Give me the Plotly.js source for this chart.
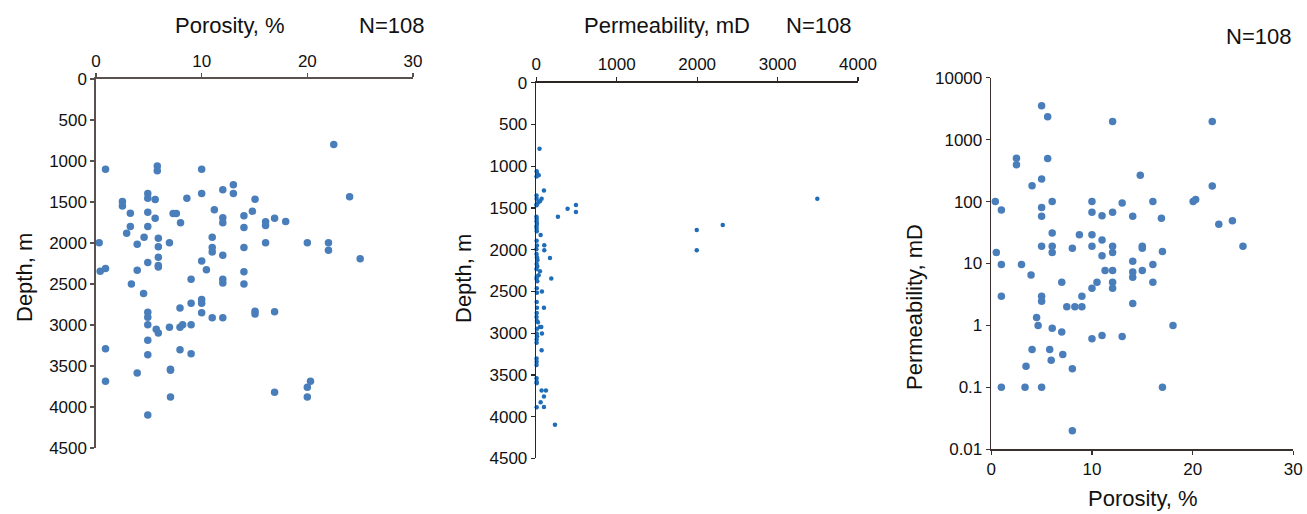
<!DOCTYPE html>
<html>
<head>
<meta charset="utf-8">
<script src="https://cdn.plot.ly/plotly-3.0.1.min.js"></script>
<style>html,body{margin:0;padding:0;background:#fff;}#chart{width:1307px;height:514px;}</style>
</head>
<body>
<div id="chart"></div>
<script>
// Panel 1: porosity (%) vs depth (m)
const porosity1 = [22.5,0.9,5.8,5.8,10,13,12,13,10,4.9,4.9,5.6,8.6,15.05,24,2.5,2.5,3.25,4.9,11.2,7.3,7.6,14.8,14,12,12,8,5.6,16.9,16.05,16.05,17.95,3.25,4.9,14,2.9,4.55,5.9,11,0.3,3.9,6.95,5.9,11,14,16.05,20,22,22,
  25,11,12,5.9,4.9,5.9,5.9,10,0.4,0.9,3.9,10.45,14,12,12,9,3.35,14,4.5,7.95,10,10,9,4.9,4.9,10,11,12,15.05,15.05,16.9,4.9,5.7,5.9,6.95,7.95,8.2,9,0.9,4.9,7.95,9,4.9,3.9,7.05,7.05,0.9,20,20.3,20,16.9,7.05,4.9];
const depth1 = [800,1100,1060,1120,1100,1290,1350,1395,1395,1395,1453,1470,1453,1465,1437,1495,1550,1636,1624,1595,1640,1640,1612,1669,1693,1754,1754,1697,1697,1742,1787,1738,1799,1799,1811,1880,1929,1941,1929,1998,2015,1998,2047,2055,2055,1998,1998,1998,2088,
  2191,2110,2150,2175,2237,2274,2294,2220,2344,2311,2331,2327,2352,2442,2488,2442,2500,2500,2615,2792,2689,2735,2735,2846,2907,2850,2911,2911,2833,2866,2837,2998,3051,3097,3027,3027,2998,2998,3290,3187,3302,3352,3364,3586,3541,3553,3685,3759,3685,3878,3821,3878,4097];

// Panel 2: permeability (mD) vs depth (m)
const permeability2 = [40,5,12,30,3,95,3,4,66,45,25,5,3,493,493,389,269,3494,2318,1995,1995,2,5,3,8,2,4,6,54,4,8,99,99,1,170,3,8,15,5,12,2,45,29,6,3,12,186,70,6,8,95,8,5,5,3,8,20,45,62,8,70,5,10,4,4,66,3,4,3,3,4,5,66,120,95,54,95,5,232];
const depth2 = [790,1059,1090,1107,1123,1291,1351,1391,1391,1420,1436,1452,1468,1464,1548,1508,1604,1391,1704,1764,2005,1604,1630,1660,1690,1720,1750,1780,1825,1893,1950,1945,2005,1993,2099,2051,2091,2123,2170,2202,2230,2258,2305,2321,2349,2377,2345,2500,2460,2516,2695,2695,2627,2758,2806,2853,2869,2925,2925,2945,3004,3004,3036,3075,3115,3203,3302,3341,3380,3540,3580,3600,3687,3687,3758,3826,3882,3886,4096];

// Panel 3: porosity (%) vs permeability (mD, log)
const porosity3 = [5,5.6,12.05,21.95,2.5,2.5,5.6,14.8,4.05,5,21.95,0.4,1,5,5,6.05,10,10,11,12.05,13,14.05,16.05,16.9,20.05,20.3,22.6,23.95,25,6.05,8.75,10,11,5,6.05,6.05,8.05,10,12.05,12.05,15,15,17,0.5,11,14.05,1,3,3.95,11.3,12.05,14.05,15,14.05,16.05,16.05,7,10.5,12.05,12.05,10,1,5,5,9,7.5,8.3,9,14.05,4.5,4.65,6.05,7,18.05,10,11,13,4.05,5.8,5.95,7.1,3.45,8.05,1,3.35,5,17,8.05];
const permeability3 = [3510,2350,1970,1970,500,394,494,265,180,231,178,100,73,80,58,100,100,67,59,67,95,58,100,54,100,108,43,49,19,31,29,29,24,19,19,15,17.7,19,19,15,19,17.7,15.6,15,13.4,10.9,9.6,9.6,6.5,7.7,7.7,7.3,7.7,6,9.6,5,5,5,5,4,4,2.95,2.95,2.45,2.95,2,2,2,2.26,1.34,1,0.9,0.78,1,0.61,0.69,0.66,0.41,0.41,0.275,0.34,0.22,0.2,0.1,0.1,0.1,0.1,0.02];

const logTickVals = [0.01,0.1,1,10,100,1000,10000];
const logTickText = ['0.01','0.1','1','10','100','1000','10000'];
const sampleCount = 'N=108';

const FONT = 'Liberation Sans, Arial, sans-serif';
const C1 = '#4a7ebb';
const C2 = '#1f6db8';

const traces = [
  {type:'scatter', mode:'markers', x:porosity1, y:depth1, xaxis:'x', yaxis:'y',
   marker:{color:C1, size:7.5}, cliponaxis:false, hoverinfo:'skip'},
  {type:'scatter', mode:'markers', x:permeability2, y:depth2, xaxis:'x2', yaxis:'y2',
   marker:{color:C2, size:4.5}, cliponaxis:false, hoverinfo:'skip'},
  {type:'scatter', mode:'markers', x:porosity3, y:permeability3, xaxis:'x3', yaxis:'y3',
   marker:{color:C1, size:7.5}, cliponaxis:false, hoverinfo:'skip'}
];

const tickFont = {family:FONT, size:17, color:'#111'};
const axBase = {showgrid:false, zeroline:false, showline:true, ticks:'outside', ticklen:4, tickwidth:1.3, linewidth:1.6, tickfont:tickFont, fixedrange:true};

const layout = {
  width:1307, height:514,
  margin:{l:0,r:0,t:0,b:0},
  paper_bgcolor:'#fff', plot_bgcolor:'#fff',
  showlegend:false,
  font:{family:FONT, color:'#111'},
  xaxis: Object.assign({}, axBase, {domain:[0.07345,0.31599], anchor:'y', side:'top', range:[0,30], tickvals:[0,10,20,30], linecolor:'#5a5050', tickcolor:'#5a5050'}),
  yaxis: Object.assign({}, axBase, {domain:[0.1284,0.8463], anchor:'x', range:[4500,0], tickvals:[0,500,1000,1500,2000,2500,3000,3500,4000,4500], linecolor:'#5a5050', tickcolor:'#5a5050'}),
  xaxis2: Object.assign({}, axBase, {domain:[0.41033,0.65647], anchor:'y2', side:'top', range:[0,4000], tickvals:[0,1000,2000,3000,4000], linecolor:'#2d2424', tickcolor:'#2d2424'}),
  yaxis2: Object.assign({}, axBase, {domain:[0.10798,0.83911], anchor:'x2', range:[4500,0], tickvals:[0,500,1000,1500,2000,2500,3000,3500,4000,4500], linecolor:'#2d2424', tickcolor:'#2d2424'}),
  xaxis3: Object.assign({}, axBase, {domain:[0.75845,0.98952], anchor:'y3', range:[0,30], tickvals:[0,10,20,30], linecolor:'#3a3030', tickcolor:'#3a3030'}),
  yaxis3: Object.assign({}, axBase, {domain:[0.12588,0.84883], anchor:'x3', type:'log', range:[-2,4], tickvals:logTickVals, ticktext:logTickText, linecolor:'#3a3030', tickcolor:'#3a3030'}),
  annotations: [
    {text:'Porosity, %', x:230/1307, y:1-25/514, xref:'paper', yref:'paper', xanchor:'center', yanchor:'middle', showarrow:false, font:{family:FONT, size:22, color:'#111'}},
    {text:sampleCount, x:391/1307, y:1-25/514, xref:'paper', yref:'paper', xanchor:'center', yanchor:'middle', showarrow:false, font:{family:FONT, size:22, color:'#111'}},
    {text:'Permeability, mD', x:667/1307, y:1-25/514, xref:'paper', yref:'paper', xanchor:'center', yanchor:'middle', showarrow:false, font:{family:FONT, size:22, color:'#111'}},
    {text:sampleCount, x:818/1307, y:1-25/514, xref:'paper', yref:'paper', xanchor:'center', yanchor:'middle', showarrow:false, font:{family:FONT, size:22, color:'#111'}},
    {text:sampleCount, x:1258/1307, y:1-37/514, xref:'paper', yref:'paper', xanchor:'center', yanchor:'middle', showarrow:false, font:{family:FONT, size:22, color:'#111'}},
    {text:'Depth, m', x:24/1307, y:1-278/514, xref:'paper', yref:'paper', xanchor:'center', yanchor:'middle', textangle:-90, showarrow:false, font:{family:FONT, size:22, color:'#111'}},
    {text:'Depth, m', x:463/1307, y:1-279/514, xref:'paper', yref:'paper', xanchor:'center', yanchor:'middle', textangle:-90, showarrow:false, font:{family:FONT, size:22, color:'#111'}},
    {text:'Permeability, mD', x:914/1307, y:1-307/514, xref:'paper', yref:'paper', xanchor:'center', yanchor:'middle', textangle:-90, showarrow:false, font:{family:FONT, size:22, color:'#111'}},
    {text:'Porosity, %', x:1143/1307, y:1-498/514, xref:'paper', yref:'paper', xanchor:'center', yanchor:'middle', showarrow:false, font:{family:FONT, size:22, color:'#111'}}
  ]
};

Plotly.newPlot('chart', traces, layout, {staticPlot:true, displayModeBar:false});
</script>
</body>
</html>
